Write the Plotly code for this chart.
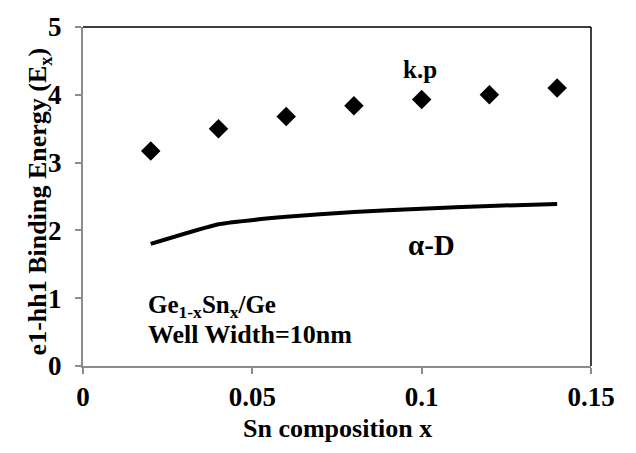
import plotly.graph_objects as go

# data
kp_x = [0.02, 0.04, 0.06, 0.08, 0.10, 0.12, 0.14]
kp_y = [3.17, 3.50, 3.68, 3.84, 3.93, 4.00, 4.10]
ad_x = [0.02, 0.04, 0.06, 0.08, 0.10, 0.12, 0.14]
ad_y = [1.80, 2.09, 2.20, 2.27, 2.32, 2.36, 2.39]
x_ticks = [0, 0.05, 0.1, 0.15]
x_tick_labels = ["0", "0.05", "0.1", "0.15"]
y_ticks = [0, 1, 2, 3, 4, 5]
y_tick_labels = ["0", "1", "2", "3", "4", "5"]

FONT = "Liberation Serif, Times New Roman, serif"
GREY = "#8c8c8c"

fig = go.Figure()
fig.add_trace(go.Scatter(x=ad_x, y=ad_y, mode="lines",
                         line=dict(color="black", width=4, shape="spline", smoothing=0.4),
                         showlegend=False))
fig.add_trace(go.Scatter(x=kp_x, y=kp_y, mode="markers",
                         marker=dict(symbol="diamond", size=15, color="black"),
                         showlegend=False))

fig.update_layout(
    width=636, height=453,
    margin=dict(l=83, r=45, t=15, b=87),
    paper_bgcolor="white", plot_bgcolor="white",
    font=dict(family=FONT, color="black", size=20),
    xaxis=dict(range=[0, 0.15], tickvals=x_ticks,
               ticktext=["<b>%s</b>" % t for t in x_tick_labels],
               showgrid=False, zeroline=False, showline=True, linecolor=GREY, linewidth=2,
               ticks="outside", ticklen=6, tickcolor=GREY, tickwidth=1.5,
               tickfont=dict(family=FONT, size=27, color="black"),
               ticklabelstandoff=0),
    yaxis=dict(range=[0, 5], tickvals=y_ticks,
               ticktext=["<b>%s</b>" % t for t in y_tick_labels],
               showgrid=False, zeroline=False, showline=True, linecolor=GREY, linewidth=2,
               ticks="outside", ticklen=6, tickcolor=GREY, tickwidth=1.5,
               tickfont=dict(family=FONT, size=27, color="black"),
               ticklabelstandoff=8),
)

# top and right frame lines
fig.add_shape(type="line", xref="paper", yref="paper", x0=0, x1=1, y0=1, y1=1,
              line=dict(color="black", width=1.5))
fig.add_shape(type="line", xref="paper", yref="paper", x0=1, x1=1, y0=0, y1=1,
              line=dict(color="black", width=1.5))

fig.add_annotation(text="<b>Sn composition x</b>", xref="paper", yref="paper", x=0.5, y=-0.185,
                   yanchor="middle", showarrow=False, font=dict(family=FONT, size=26, color="black"))
fig.add_annotation(text="<b>e1-hh1 Binding Energy (E<sub>x</sub>)</b>", xref="paper", yref="paper",
                   x=-0.087, y=0.485, textangle=-90, xanchor="center", yanchor="middle",
                   showarrow=False, font=dict(family=FONT, size=26, color="black"))
fig.add_annotation(text="<b>k.p</b>", x=0.0995, y=4.38, showarrow=False,
                   font=dict(family=FONT, size=25, color="black"))
fig.add_annotation(text="<b>α-D</b>", x=0.103, y=1.78, showarrow=False,
                   font=dict(family=FONT, size=29, color="black"))
fig.add_annotation(text="<b>Ge<sub>1-x</sub>Sn<sub>x</sub>/Ge</b>",
                   x=0.0185, y=0.88, xanchor="left", yanchor="middle", align="left",
                   showarrow=False, font=dict(family=FONT, size=25, color="black"))
fig.add_annotation(text="<b>Well Width=10nm</b>",
                   x=0.0185, y=0.47, xanchor="left", yanchor="middle", align="left",
                   showarrow=False, font=dict(family=FONT, size=26, color="black"))

fig.write_html("out.html")
